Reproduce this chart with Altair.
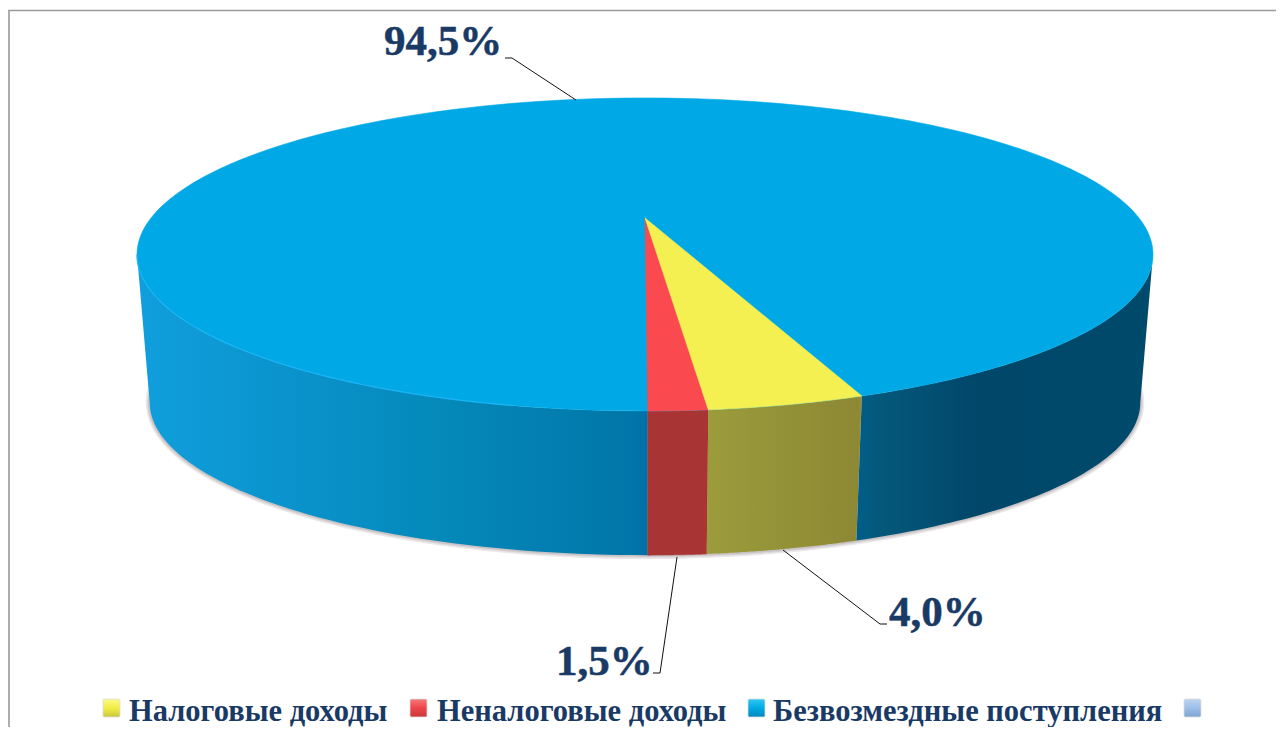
import math
import altair as alt
import pandas as pd

# ---- data
categories = ["Налоговые доходы", "Неналоговые доходы", "Безвозмездные поступления", ""]
shares = [4.0, 1.5, 94.5]
share_labels = ["4,0%", "1,5%", "94,5%"]

# ---- styling and layout
TEXT = "#1a3a66"
FONT = "Liberation Serif"
W, H = 1268, 719
CX, CY, A, B, K = 645.0, 218.0, 494.0, 148.0, 0.233   # top disc perspective
WALL_SCALE, WALL_CY = 0.975, 367.0                    # bottom disc
ROT = 0.25                                            # first slice angle, degrees

label_pos = [(889, 626), (556, 675), (384, 55)]
leaders = [
    [(783, 550), (880, 624), (887, 624)],
    [(677, 557), (660, 673), (653, 673)],
    [(576, 100), (512, 58), (505, 58)],
]
legend_text_x = [129, 437, 773]
legend_box_x = [103, 410, 748, 1184]
legend_grad = [
    ["#fbf88a", "#f2ee45", "#c9c63a"],
    ["#f47a7a", "#ee4448", "#c83a3c"],
    ["#30c8f4", "#00a9e4", "#0088bf"],
    ["#bcd4f2", "#9dbfe8", "#7fa3d2"],
]

x_sc = alt.Scale(domain=[8, 8 + W], nice=False, zero=False)
y_sc = alt.Scale(domain=[8 + H, 8], nice=False, zero=False)


def top_pt(t):
    X, Z = math.sin(math.radians(t)), math.cos(math.radians(t))
    d = 1 - K * Z
    return CX + A * X / d, CY + B * Z / d


def bot_pt(t):
    X, Z = math.sin(math.radians(t)), math.cos(math.radians(t))
    d = 1 - K * Z
    return CX + WALL_SCALE * A * X / d, WALL_CY + WALL_SCALE * B * Z / d


def sweep(a, b, n=60):
    return [a + (b - a) * i / n for i in range(n + 1)]


def poly(points, **kw):
    df = pd.DataFrame({"x": [p[0] for p in points], "y": [p[1] for p in points], "i": range(len(points))})
    return alt.Chart(df).mark_line(interpolate="linear", **kw).encode(
        x=alt.X("x:Q", scale=x_sc, axis=None),
        y=alt.Y("y:Q", scale=y_sc, axis=None),
        order="i:Q",
    )


def hgrad(stops):
    return alt.Gradient(
        gradient="linear", x1=0, x2=1, y1=0, y2=0,
        stops=[alt.GradientStop(offset=o, color=c) for o, c in stops],
    )


def vgrad(colors):
    n = len(colors) - 1
    return alt.Gradient(
        gradient="linear", x1=0, x2=0, y1=0, y2=1,
        stops=[alt.GradientStop(offset=i / n, color=c) for i, c in enumerate(colors)],
    )


def filled(points, fill):
    if isinstance(fill, str):
        return poly(points + points[:1], fill=fill, stroke=fill, strokeWidth=0.6)
    return poly(points + points[:1], fill=fill, strokeOpacity=0, strokeWidth=0)


# slice angles measured from the nearest point of the disc
deg = [s * 3.6 for s in shares]
red_start = ROT
red_end = red_start + deg[1]
yellow_end = red_end + deg[0]
EDGE = 76.5

layers = []

# frame
layers.append(poly([(9, 735), (9, 10.5), (1284, 10.5)], stroke="#9a9a9a", strokeWidth=1.6))

# soft shadow under the wall
shadow_arc = [bot_pt(t) for t in sweep(-92, 92, 160)]
for w in (8, 5, 3):
    layers.append(poly(shadow_arc, stroke="#6f5f66", strokeWidth=w, strokeOpacity=0.14))


def wall(a, b):
    ts = sweep(a, b)
    return [top_pt(t) for t in ts] + [bot_pt(t) for t in reversed(ts)]


layers.append(filled(wall(-EDGE, red_start), hgrad([(0, "#109fdd"), (0.3, "#0a93cc"), (0.62, "#0488b8"), (0.97, "#0176a8"), (1, "#006fa8")])))
layers.append(filled(wall(red_start, red_end), "#a83434"))
layers.append(filled(wall(red_end, yellow_end), hgrad([(0, "#9c9c3c"), (0.97, "#8c8834"), (1, "#a08c2c")])))
layers.append(filled(wall(yellow_end, EDGE), hgrad([(0, "#005e8a"), (0.08, "#05587a"), (0.4, "#00476a"), (1, "#004a6b")])))

# top face
layers.append(filled([top_pt(t) for t in sweep(0, 360, 240)], "#00a9e6"))
layers.append(filled([(CX, CY)] + [top_pt(t) for t in sweep(red_start, red_end, 12)], "#fa4a50"))
layers.append(filled([(CX, CY)] + [top_pt(t) for t in sweep(red_end, yellow_end, 24)], "#f5f052"))

# light rim along the left front edge
layers.append(poly([top_pt(t) for t in sweep(-EDGE, -12, 80)], stroke="#1bb4f4", strokeWidth=1.4, strokeOpacity=0.8))

# leader lines
for pts in leaders:
    layers.append(poly(pts, stroke="#111111", strokeWidth=1))

# percentage labels
layers.append(
    alt.Chart(pd.DataFrame({"t": share_labels, "x": [p[0] for p in label_pos], "y": [p[1] for p in label_pos]}))
    .mark_text(font=FONT, fontWeight="bold", fontSize=43, align="left", baseline="alphabetic", color=TEXT,
               stroke=TEXT, strokeWidth=0.5)
    .encode(x=alt.X("x:Q", scale=x_sc, axis=None), y=alt.Y("y:Q", scale=y_sc, axis=None), text="t:N")
)

# legend
for bx, cols in zip(legend_box_x, legend_grad):
    layers.append(
        alt.Chart(pd.DataFrame({"x": [bx], "x2": [bx + 17], "y": [699], "y2": [717]}))
        .mark_rect(fill=vgrad(cols), cornerRadius=1.5, stroke="#dddddd", strokeWidth=0.8)
        .encode(
            x=alt.X("x:Q", scale=x_sc, axis=None), x2="x2:Q",
            y=alt.Y("y:Q", scale=y_sc, axis=None), y2="y2:Q",
        )
    )
layers.append(
    alt.Chart(pd.DataFrame({"t": categories[:3], "x": legend_text_x, "y": [721] * 3}))
    .mark_text(font=FONT, fontWeight="bold", fontSize=30.5, align="left", baseline="alphabetic", color=TEXT)
    .encode(x=alt.X("x:Q", scale=x_sc, axis=None), y=alt.Y("y:Q", scale=y_sc, axis=None), text="t:N")
)

chart = (
    alt.layer(*layers)
    .properties(width=W, height=H, padding=0, autosize=alt.AutoSizeParams(type="none"), background="white")
    .configure_view(stroke=None)
)
chart.save("out.html", embed_options={"renderer": "svg", "actions": False})
